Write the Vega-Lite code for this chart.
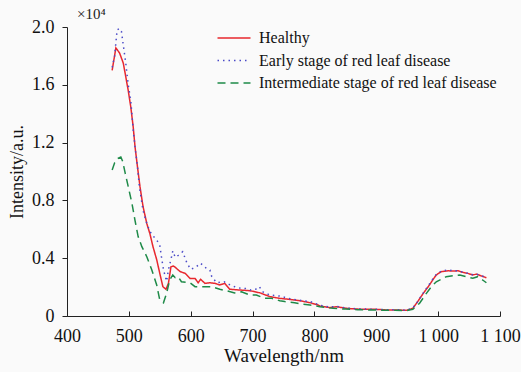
{
  "$schema": "https://vega.github.io/schema/vega-lite/v6.json",
  "width": 433,
  "height": 289,
  "autosize": {"type": "none"},
  "padding": {"left": 67, "top": 27, "right": 21, "bottom": 56},
  "background": "#fafafa",
  "title": {"text": "×10⁴", "anchor": "start", "frame": "group", "fontSize": 15, "fontWeight": "normal", "font": "Liberation Serif", "color": "#222", "dx": 10, "offset": -4},
  "config": {"view": {"stroke": null}, "font": "Liberation Serif"},
  "data": {"values": [
    {"s":"Healthy","w":473,"v":1.70},{"s":"Healthy","w":479,"v":1.855},{"s":"Healthy","w":485,"v":1.82},{"s":"Healthy","w":491,"v":1.75},{"s":"Healthy","w":495,"v":1.656},{"s":"Healthy","w":499,"v":1.56},{"s":"Healthy","w":503,"v":1.45},{"s":"Healthy","w":507,"v":1.31},{"s":"Healthy","w":510,"v":1.17},{"s":"Healthy","w":514,"v":1.03},{"s":"Healthy","w":518,"v":0.895},{"s":"Healthy","w":523,"v":0.756},{"s":"Healthy","w":529,"v":0.64},{"s":"Healthy","w":534,"v":0.57},{"s":"Healthy","w":539,"v":0.48},{"s":"Healthy","w":545,"v":0.39},{"s":"Healthy","w":550,"v":0.295},{"s":"Healthy","w":555,"v":0.203},{"s":"Healthy","w":560,"v":0.185},{"s":"Healthy","w":564,"v":0.226},{"s":"Healthy","w":568,"v":0.34},{"s":"Healthy","w":572,"v":0.346},{"s":"Healthy","w":575,"v":0.337},{"s":"Healthy","w":580,"v":0.318},{"s":"Healthy","w":583,"v":0.307},{"s":"Healthy","w":591,"v":0.295},{"s":"Healthy","w":599,"v":0.26},{"s":"Healthy","w":607,"v":0.26},{"s":"Healthy","w":612,"v":0.23},{"s":"Healthy","w":616,"v":0.254},{"s":"Healthy","w":623,"v":0.226},{"s":"Healthy","w":631,"v":0.23},{"s":"Healthy","w":639,"v":0.226},{"s":"Healthy","w":647,"v":0.215},{"s":"Healthy","w":655,"v":0.226},{"s":"Healthy","w":663,"v":0.185},{"s":"Healthy","w":679,"v":0.18},{"s":"Healthy","w":696,"v":0.175},{"s":"Healthy","w":712,"v":0.16},{"s":"Healthy","w":728,"v":0.134},{"s":"Healthy","w":744,"v":0.122},{"s":"Healthy","w":760,"v":0.115},{"s":"Healthy","w":776,"v":0.106},{"s":"Healthy","w":793,"v":0.092},{"s":"Healthy","w":806,"v":0.076},{"s":"Healthy","w":809,"v":0.069},{"s":"Healthy","w":825,"v":0.058},{"s":"Healthy","w":836,"v":0.064},{"s":"Healthy","w":852,"v":0.053},{"s":"Healthy","w":868,"v":0.048},{"s":"Healthy","w":884,"v":0.046},{"s":"Healthy","w":900,"v":0.046},{"s":"Healthy","w":916,"v":0.042},{"s":"Healthy","w":933,"v":0.042},{"s":"Healthy","w":949,"v":0.039},{"s":"Healthy","w":959,"v":0.053},{"s":"Healthy","w":967,"v":0.1},{"s":"Healthy","w":976,"v":0.157},{"s":"Healthy","w":984,"v":0.203},{"s":"Healthy","w":992,"v":0.254},{"s":"Healthy","w":997,"v":0.284},{"s":"Healthy","w":1005,"v":0.307},{"s":"Healthy","w":1016,"v":0.313},{"s":"Healthy","w":1024,"v":0.311},{"s":"Healthy","w":1032,"v":0.313},{"s":"Healthy","w":1040,"v":0.302},{"s":"Healthy","w":1048,"v":0.295},{"s":"Healthy","w":1056,"v":0.284},{"s":"Healthy","w":1062,"v":0.29},{"s":"Healthy","w":1070,"v":0.277},{"s":"Healthy","w":1078,"v":0.265},
    {"s":"Early stage of red leaf disease","w":473,"v":1.72},{"s":"Early stage of red leaf disease","w":477,"v":1.80},{"s":"Early stage of red leaf disease","w":481,"v":1.98},{"s":"Early stage of red leaf disease","w":485,"v":1.99},{"s":"Early stage of red leaf disease","w":488,"v":1.97},{"s":"Early stage of red leaf disease","w":491,"v":1.875},{"s":"Early stage of red leaf disease","w":495,"v":1.75},{"s":"Early stage of red leaf disease","w":499,"v":1.6},{"s":"Early stage of red leaf disease","w":503,"v":1.495},{"s":"Early stage of red leaf disease","w":507,"v":1.29},{"s":"Early stage of red leaf disease","w":510,"v":1.17},{"s":"Early stage of red leaf disease","w":514,"v":1.03},{"s":"Early stage of red leaf disease","w":517,"v":0.895},{"s":"Early stage of red leaf disease","w":523,"v":0.73},{"s":"Early stage of red leaf disease","w":529,"v":0.64},{"s":"Early stage of red leaf disease","w":534,"v":0.585},{"s":"Early stage of red leaf disease","w":540,"v":0.55},{"s":"Early stage of red leaf disease","w":545,"v":0.526},{"s":"Early stage of red leaf disease","w":550,"v":0.49},{"s":"Early stage of red leaf disease","w":553,"v":0.40},{"s":"Early stage of red leaf disease","w":556,"v":0.32},{"s":"Early stage of red leaf disease","w":561,"v":0.24},{"s":"Early stage of red leaf disease","w":564,"v":0.32},{"s":"Early stage of red leaf disease","w":569,"v":0.41},{"s":"Early stage of red leaf disease","w":571,"v":0.45},{"s":"Early stage of red leaf disease","w":575,"v":0.406},{"s":"Early stage of red leaf disease","w":580,"v":0.42},{"s":"Early stage of red leaf disease","w":587,"v":0.445},{"s":"Early stage of red leaf disease","w":591,"v":0.40},{"s":"Early stage of red leaf disease","w":594,"v":0.365},{"s":"Early stage of red leaf disease","w":600,"v":0.323},{"s":"Early stage of red leaf disease","w":608,"v":0.337},{"s":"Early stage of red leaf disease","w":616,"v":0.365},{"s":"Early stage of red leaf disease","w":623,"v":0.337},{"s":"Early stage of red leaf disease","w":631,"v":0.318},{"s":"Early stage of red leaf disease","w":634,"v":0.272},{"s":"Early stage of red leaf disease","w":642,"v":0.23},{"s":"Early stage of red leaf disease","w":654,"v":0.237},{"s":"Early stage of red leaf disease","w":661,"v":0.22},{"s":"Early stage of red leaf disease","w":671,"v":0.203},{"s":"Early stage of red leaf disease","w":682,"v":0.19},{"s":"Early stage of red leaf disease","w":689,"v":0.19},{"s":"Early stage of red leaf disease","w":696,"v":0.18},{"s":"Early stage of red leaf disease","w":705,"v":0.185},{"s":"Early stage of red leaf disease","w":711,"v":0.203},{"s":"Early stage of red leaf disease","w":716,"v":0.168},{"s":"Early stage of red leaf disease","w":728,"v":0.145},{"s":"Early stage of red leaf disease","w":744,"v":0.138},{"s":"Early stage of red leaf disease","w":758,"v":0.122},{"s":"Early stage of red leaf disease","w":774,"v":0.11},{"s":"Early stage of red leaf disease","w":793,"v":0.1},{"s":"Early stage of red leaf disease","w":809,"v":0.075},{"s":"Early stage of red leaf disease","w":825,"v":0.062},{"s":"Early stage of red leaf disease","w":836,"v":0.066},{"s":"Early stage of red leaf disease","w":852,"v":0.055},{"s":"Early stage of red leaf disease","w":868,"v":0.05},{"s":"Early stage of red leaf disease","w":884,"v":0.048},{"s":"Early stage of red leaf disease","w":900,"v":0.046},{"s":"Early stage of red leaf disease","w":916,"v":0.044},{"s":"Early stage of red leaf disease","w":933,"v":0.043},{"s":"Early stage of red leaf disease","w":949,"v":0.04},{"s":"Early stage of red leaf disease","w":959,"v":0.055},{"s":"Early stage of red leaf disease","w":967,"v":0.1},{"s":"Early stage of red leaf disease","w":976,"v":0.16},{"s":"Early stage of red leaf disease","w":984,"v":0.21},{"s":"Early stage of red leaf disease","w":992,"v":0.26},{"s":"Early stage of red leaf disease","w":997,"v":0.288},{"s":"Early stage of red leaf disease","w":1005,"v":0.31},{"s":"Early stage of red leaf disease","w":1016,"v":0.32},{"s":"Early stage of red leaf disease","w":1024,"v":0.312},{"s":"Early stage of red leaf disease","w":1032,"v":0.313},{"s":"Early stage of red leaf disease","w":1040,"v":0.303},{"s":"Early stage of red leaf disease","w":1048,"v":0.296},{"s":"Early stage of red leaf disease","w":1056,"v":0.285},{"s":"Early stage of red leaf disease","w":1062,"v":0.29},{"s":"Early stage of red leaf disease","w":1070,"v":0.278},{"s":"Early stage of red leaf disease","w":1078,"v":0.266},
    {"s":"Intermediate stage of red leaf disease","w":473,"v":1.01},{"s":"Intermediate stage of red leaf disease","w":477,"v":1.06},{"s":"Intermediate stage of red leaf disease","w":482,"v":1.09},{"s":"Intermediate stage of red leaf disease","w":487,"v":1.10},{"s":"Intermediate stage of red leaf disease","w":490,"v":1.07},{"s":"Intermediate stage of red leaf disease","w":494,"v":0.99},{"s":"Intermediate stage of red leaf disease","w":499,"v":0.895},{"s":"Intermediate stage of red leaf disease","w":505,"v":0.78},{"s":"Intermediate stage of red leaf disease","w":510,"v":0.66},{"s":"Intermediate stage of red leaf disease","w":515,"v":0.55},{"s":"Intermediate stage of red leaf disease","w":521,"v":0.48},{"s":"Intermediate stage of red leaf disease","w":529,"v":0.41},{"s":"Intermediate stage of red leaf disease","w":537,"v":0.32},{"s":"Intermediate stage of red leaf disease","w":545,"v":0.215},{"s":"Intermediate stage of red leaf disease","w":550,"v":0.11},{"s":"Intermediate stage of red leaf disease","w":556,"v":0.092},{"s":"Intermediate stage of red leaf disease","w":561,"v":0.157},{"s":"Intermediate stage of red leaf disease","w":566,"v":0.25},{"s":"Intermediate stage of red leaf disease","w":571,"v":0.284},{"s":"Intermediate stage of red leaf disease","w":575,"v":0.265},{"s":"Intermediate stage of red leaf disease","w":580,"v":0.27},{"s":"Intermediate stage of red leaf disease","w":585,"v":0.237},{"s":"Intermediate stage of red leaf disease","w":599,"v":0.23},{"s":"Intermediate stage of red leaf disease","w":607,"v":0.203},{"s":"Intermediate stage of red leaf disease","w":620,"v":0.203},{"s":"Intermediate stage of red leaf disease","w":634,"v":0.203},{"s":"Intermediate stage of red leaf disease","w":647,"v":0.185},{"s":"Intermediate stage of red leaf disease","w":658,"v":0.175},{"s":"Intermediate stage of red leaf disease","w":671,"v":0.16},{"s":"Intermediate stage of red leaf disease","w":682,"v":0.168},{"s":"Intermediate stage of red leaf disease","w":696,"v":0.145},{"s":"Intermediate stage of red leaf disease","w":706,"v":0.145},{"s":"Intermediate stage of red leaf disease","w":720,"v":0.122},{"s":"Intermediate stage of red leaf disease","w":731,"v":0.122},{"s":"Intermediate stage of red leaf disease","w":744,"v":0.106},{"s":"Intermediate stage of red leaf disease","w":752,"v":0.1},{"s":"Intermediate stage of red leaf disease","w":768,"v":0.092},{"s":"Intermediate stage of red leaf disease","w":779,"v":0.083},{"s":"Intermediate stage of red leaf disease","w":793,"v":0.076},{"s":"Intermediate stage of red leaf disease","w":803,"v":0.069},{"s":"Intermediate stage of red leaf disease","w":809,"v":0.064},{"s":"Intermediate stage of red leaf disease","w":830,"v":0.053},{"s":"Intermediate stage of red leaf disease","w":850,"v":0.048},{"s":"Intermediate stage of red leaf disease","w":870,"v":0.044},{"s":"Intermediate stage of red leaf disease","w":889,"v":0.042},{"s":"Intermediate stage of red leaf disease","w":910,"v":0.04},{"s":"Intermediate stage of red leaf disease","w":930,"v":0.04},{"s":"Intermediate stage of red leaf disease","w":949,"v":0.037},{"s":"Intermediate stage of red leaf disease","w":959,"v":0.046},{"s":"Intermediate stage of red leaf disease","w":970,"v":0.088},{"s":"Intermediate stage of red leaf disease","w":981,"v":0.157},{"s":"Intermediate stage of red leaf disease","w":989,"v":0.203},{"s":"Intermediate stage of red leaf disease","w":997,"v":0.237},{"s":"Intermediate stage of red leaf disease","w":1005,"v":0.254},{"s":"Intermediate stage of red leaf disease","w":1013,"v":0.272},{"s":"Intermediate stage of red leaf disease","w":1024,"v":0.279},{"s":"Intermediate stage of red leaf disease","w":1035,"v":0.284},{"s":"Intermediate stage of red leaf disease","w":1046,"v":0.272},{"s":"Intermediate stage of red leaf disease","w":1056,"v":0.261},{"s":"Intermediate stage of red leaf disease","w":1064,"v":0.272},{"s":"Intermediate stage of red leaf disease","w":1072,"v":0.249},{"s":"Intermediate stage of red leaf disease","w":1078,"v":0.23}
  ]},
  "mark": {"type": "line", "strokeWidth": 1.5},
  "encoding": {
    "x": {"field": "w", "type": "quantitative",
      "scale": {"domain": [400, 1100], "nice": false, "zero": false},
      "axis": {"title": "Wavelength/nm", "values": [400,500,600,700,800,900,1000,1100], "labelExpr": "replace(format(datum.value, ','), ',', ' ')", "grid": false, "domainColor": "#222", "tickColor": "#222", "tickSize": -5, "labelPadding": 16, "labelFontSize": 18, "labelColor": "#111", "labelFont": "Liberation Serif", "titleFont": "Liberation Serif", "titleFontSize": 19, "titleFontWeight": "normal", "titleColor": "#111", "titlePadding": 1, "labelFlush": false}},
    "y": {"field": "v", "type": "quantitative",
      "scale": {"domain": [0, 2.0], "nice": false},
      "axis": {"title": "Intensity/a.u.", "values": [0,0.4,0.8,1.2,1.6,2.0], "labelExpr": "datum.value == 0 ? '0' : format(datum.value, '.1f')", "grid": false, "domainColor": "#222", "tickColor": "#222", "tickSize": 5, "labelPadding": 8, "labelFontSize": 18, "labelColor": "#111", "labelFont": "Liberation Serif", "titleFont": "Liberation Serif", "titleFontSize": 18, "titleFontWeight": "normal", "titleColor": "#111", "titlePadding": 5}},
    "color": {"field": "s", "type": "nominal",
      "scale": {"domain": ["Healthy", "Early stage of red leaf disease", "Intermediate stage of red leaf disease"], "range": ["#e8282e", "#4a4ac8", "#1e8a48"]},
      "legend": {"title": null, "orient": "none", "legendX": 159, "legendY": 3, "symbolType": "M-3,0H3", "symbolSize": 121, "symbolStrokeWidth": 1.5, "labelFont": "Liberation Serif", "labelFontSize": 16, "labelColor": "#111", "labelLimit": 0, "rowPadding": 6.5, "labelOffset": 17}},
    "strokeDash": {"field": "s", "type": "nominal",
      "scale": {"domain": ["Healthy", "Early stage of red leaf disease", "Intermediate stage of red leaf disease"], "range": [[1, 0], [1.5, 4], [8, 5]]},
      "legend": null}
  }
}
